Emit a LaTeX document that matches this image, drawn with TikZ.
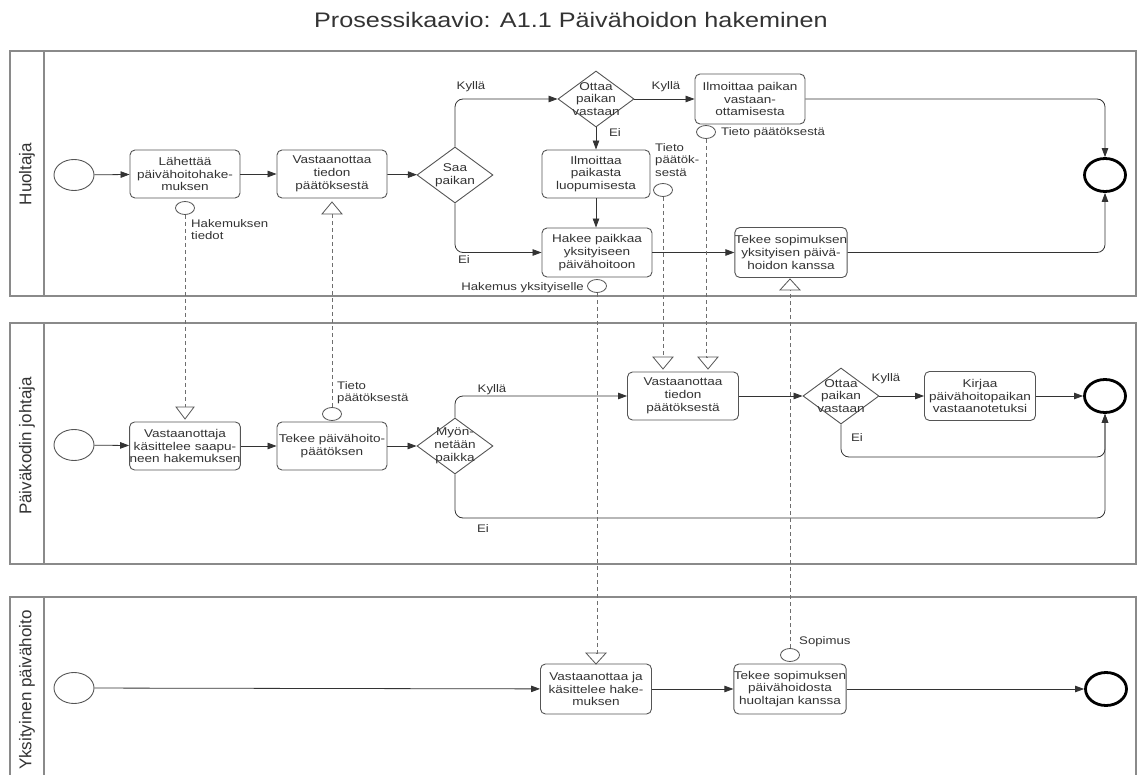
\documentclass[tikz,border=0pt]{standalone}
\usepackage{fontspec}
\setmainfont[FakeStretch=1.2]{Liberation Sans}
\newfontfamily\lanefont{Liberation Sans}
\usetikzlibrary{arrows.meta,shapes.geometric,calc}

\definecolor{ink}{HTML}{333333}
\definecolor{edge}{HTML}{555555}
\definecolor{lanegray}{HTML}{8A8A8A}

\tikzset{
  lane/.style={draw=lanegray, line width=1.1pt},
  lanelabel/.style={rotate=90, text=ink, font=\lanefont\fontsize{17}{20}\selectfont},
  task/.style={draw=edge, line width=0.9pt, rounded corners=5pt, fill=white,
    minimum width=110pt, minimum height=48pt, inner sep=0pt, align=center,
    text=ink, font=\fontsize{11.3}{12.8}\selectfont},
  gate/.style={diamond, draw=edge, line width=0.9pt, fill=white,
    minimum width=76pt, minimum height=56pt, inner sep=0pt},
  gatetext/.style={align=center, text=ink, inner sep=0pt, font=\fontsize{11.3}{12.8}\selectfont},
  startev/.style={ellipse, draw=edge, line width=0.9pt, minimum width=40pt, minimum height=31pt, inner sep=0pt},
  endev/.style={ellipse, draw=black, line width=2.8pt, minimum width=41pt, minimum height=33pt, inner sep=0pt},
  msgdot/.style={ellipse, draw=edge, line width=0.8pt, fill=white, minimum width=19pt, minimum height=13pt, inner sep=0pt},
  msgtri/.style={draw=edge, line width=0.8pt, fill=white},
  flow/.style={draw=ink, line width=0.8pt, -{Triangle[length=9pt,width=6.5pt]}},
  msg/.style={draw=edge!85, line width=0.9pt, dash pattern=on 4pt off 3pt},
  lbl/.style={text=ink, inner sep=0pt, align=left, font=\fontsize{11}{12.5}\selectfont},
}

\begin{document}
\begin{tikzpicture}[x=1pt,y=-1pt]
\useasboundingbox (0,0) rectangle (1137,775);
\clip (0,0) rectangle (1137,775);

% title
\node[text=ink, anchor=base, font=\fontsize{21}{24}\selectfont] (title) at (571,28) {Prosessikaavio: A1.1 Päivähoidon hakeminen};

% swimlanes
\draw[lane] (10,51) rectangle (1136,296);
\draw[lane] (44,51) -- (44,296);
\node[lanelabel] (lane1) at (27,174) {Huoltaja};

\draw[lane] (10,323) rectangle (1136,564);
\draw[lane] (44,323) -- (44,564);
\node[lanelabel] (lane2) at (27,446) {Päiväkodin johtaja};

\draw[lane] (10,597) rectangle (1136,820);
\draw[lane] (44,597) -- (44,820);
\node[lanelabel] (lane3) at (27,690) {Yksityinen päivähoito};

% ---------------- Huoltaja ----------------
\node[startev] (s1) at (74,175) {};
\node[task] (t1) at (185,174) {Lähettää\\päivähoitohake-\\muksen};
\node[task] (t2) at (332,174) {Vastaanottaa\\tiedon\\päätöksestä};
\node[gate] (g1) at (455,175) {};
\node[gatetext] (g1t) at (455,175) {Saa\\paikan};
\node[gate] (g2) at (596,99) {};
\node[gatetext] (g2t) at (596,99) {Ottaa\\paikan\\vastaan};
\node[task, minimum width=108pt] (t3) at (596,174) {Ilmoittaa\\paikasta\\luopumisesta};
\node[task, minimum height=49pt] (t4) at (597,252.5) {Hakee paikkaa\\yksityiseen\\päivähoitoon};
\node[task, minimum height=50pt] (t5) at (750,99) {Ilmoittaa paikan\\vastaan-\\ottamisesta};
\node[task, minimum width=112pt, minimum height=50pt] (t6) at (791,252.5) {Tekee sopimuksen\\yksityisen päivä-\\hoidon kanssa};
\node[endev] (e1) at (1105,175) {};

% ---------------- Päiväkodin johtaja ----------------
\node[startev] (s2) at (74,445) {};
\node[task] (t7) at (185,446) {Vastaanottaja\\käsittelee saapu-\\neen hakemuksen};
\node[task] (t8) at (332,446) {Tekee päivähoito-\\päätöksen};
\node[gate] (g3) at (455,446) {};
\node[gatetext] (g3t) at (455,446) {Myön-\\netään\\paikka};
\node[task, minimum width=111pt] (t9) at (683,396) {Vastaanottaa\\tiedon\\päätöksestä};
\node[gate] (g4) at (841,396) {};
\node[gatetext] (g4t) at (841,396) {Ottaa\\paikan\\vastaan};
\node[task, minimum width=111pt, minimum height=49pt] (t10) at (980,396) {Kirjaa\\päivähoitopaikan\\vastaanotetuksi};
\node[endev] (e2) at (1105,396) {};

% ---------------- Yksityinen päivähoito ----------------
\node[startev] (s3) at (74,688) {};
\node[task, minimum width=111pt, minimum height=50pt] (t11) at (596,689) {Vastaanottaa ja\\käsittelee hake-\\muksen};
\node[task, minimum height=50pt] (t12) at (790,689) {Tekee sopimuksen\\päivähoidosta\\huoltajan kanssa};
\node[endev] (e3) at (1106,689) {};

% ---------------- sequence flows ----------------
\draw[flow] (s1) -- (t1);
\draw[flow] (t1) -- (t2);
\draw[flow] (t2) -- (g1);
\draw[flow, rounded corners=8pt] (g1.north) |- (g2.west);
\draw[flow, rounded corners=8pt] (g1.south) |- (t4.west);
\draw[flow] (g2.east) -- (t5.west);
\draw[flow] (g2.south) -- (t3.north);
\draw[flow] (t3.south) -- (t4.north -| t3.south);
\draw[flow] (t4.east) -- (t6.west);
\draw[flow, rounded corners=8pt] (t5.east) -| (e1.north);
\draw[flow, rounded corners=8pt] (t6.east) -| (e1.south);

\draw[flow] (s2) -- (t7);
\draw[flow] (t7) -- (t8);
\draw[flow] (t8) -- (g3);
\draw[flow, rounded corners=8pt] (g3.north) |- (t9.west);
\coordinate (j1) at (1105,518);
\coordinate (j2) at (1105,457);
\draw[flow, rounded corners=8pt] (g3.south) |- (j1) -- (e2.south);
\draw[flow] (t9) -- (g4);
\draw[flow] (g4) -- (t10);
\draw[flow] (t10) -- (e2);
\draw[flow, rounded corners=8pt] (g4.south) |- (j2) -- (e2.south);

\draw[flow] (s3) -- (t11);
\draw[flow] (t11) -- (t12);
\draw[flow] (t12) -- (e3);

% gateway labels
\node[lbl] (k1) at (471,87) {Kyllä};
\node[lbl] (n1) at (464,260) {Ei};
\node[lbl] (k2) at (666,87) {Kyllä};
\node[lbl] (n2) at (615,133) {Ei};
\node[lbl] (k3) at (492,390) {Kyllä};
\node[lbl] (n3) at (483,529) {Ei};
\node[lbl] (k4) at (886,379) {Kyllä};
\node[lbl] (n4) at (857,438) {Ei};

% ---------------- message markers ----------------
\node[msgdot] (c1) at (185,208) {};
\node[msgdot] (c2) at (332,414) {};
\node[msgdot] (c3) at (663,190) {};
\node[msgdot] (c4) at (706,132) {};
\node[msgdot] (c5) at (597,286) {};
\node[msgdot] (c6) at (790,655) {};

% incoming message triangles (base coordinate named, apex toward task)
\coordinate (r1) at (185,407);
\coordinate (r2) at (332,214);
\coordinate (r3) at (663,357);
\coordinate (r4) at (708,357);
\coordinate (r5) at (596,653);
\coordinate (r6) at (790,290);
\draw[msgtri] ($(r1)+(-9,0)$) -- ($(r1)+(9,0)$) -- ($(r1)+(0,12)$) -- cycle;
\draw[msgtri] ($(r2)+(-10,0)$) -- ($(r2)+(10,0)$) -- ($(r2)+(0,-12)$) -- cycle;
\draw[msgtri] ($(r3)+(-10,0)$) -- ($(r3)+(10,0)$) -- ($(r3)+(0,12)$) -- cycle;
\draw[msgtri] ($(r4)+(-10,0)$) -- ($(r4)+(10,0)$) -- ($(r4)+(0,12)$) -- cycle;
\draw[msgtri] ($(r5)+(-10,0)$) -- ($(r5)+(10,0)$) -- ($(r5)+(0,11)$) -- cycle;
\draw[msgtri] ($(r6)+(-10,0)$) -- ($(r6)+(10,0)$) -- ($(r6)+(0,-11)$) -- cycle;

% message flows
\draw[msg] (c1.south) -- (r1);
\draw[msg] (c2.north) -- (r2);
\draw[msg] (c3.south) -- (r3);
\draw[msg] (c4.south) -- (c4.south |- r4) -- (r4);
\draw[msg] (c5.south) -- (c5.south |- r5) -- (r5);
\draw[msg] (c6.north) -- (r6);

% message labels
\node[lbl, anchor=north west] (m1) at (191,219) {Hakemuksen\\tiedot};
\node[lbl, anchor=north west] (m2) at (337,381) {Tieto\\päätöksestä};
\node[lbl, anchor=north west] (m3) at (655,143) {Tieto\\päätök-\\sestä};
\node[lbl, anchor=west] (m4) at (721,133) {Tieto päätöksestä};
\node[lbl, anchor=east] (m5) at (584,288) {Hakemus yksityiselle};
\node[lbl, anchor=west] (m6) at (799,642) {Sopimus};

\end{tikzpicture}
\end{document}
